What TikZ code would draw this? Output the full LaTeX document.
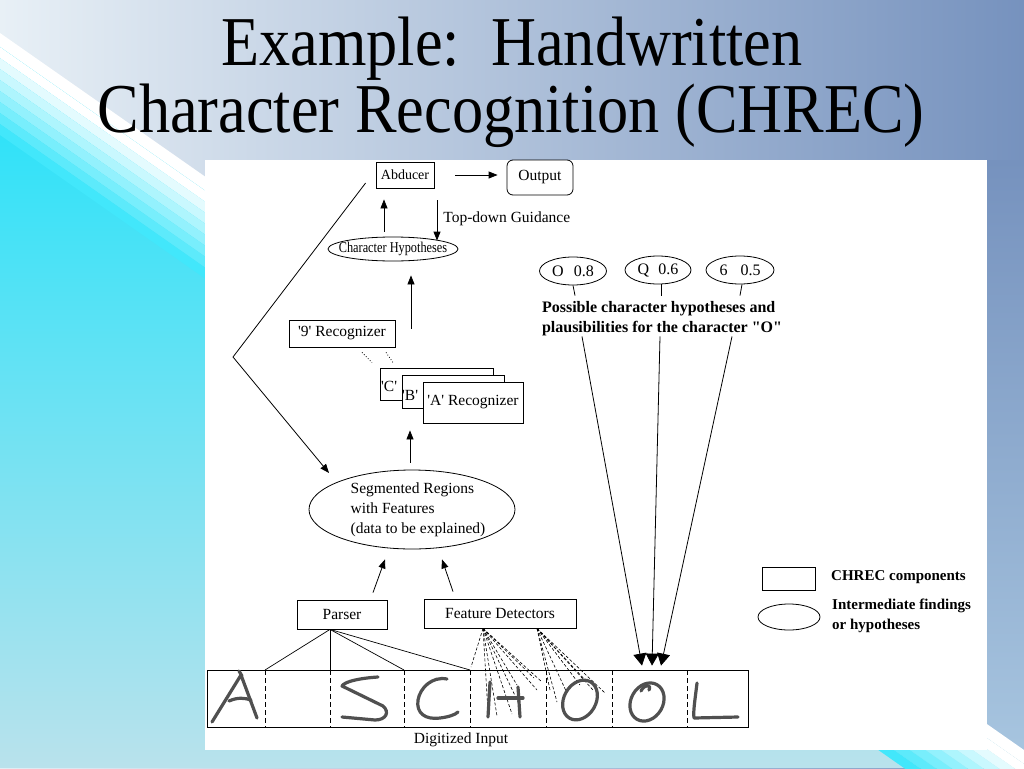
\documentclass[tikz,border=0pt]{standalone}
\usepackage{fontspec}
\setmainfont{Liberation Serif}
\usetikzlibrary{shapes.geometric, arrows.meta}
\definecolor{bgcyan}{RGB}{30,226,250}
\definecolor{bgcyanlight}{RGB}{185,226,236}
\definecolor{bgpale}{RGB}{232,240,246}
\definecolor{bgmid}{RGB}{196,214,231}
\definecolor{bgslate}{RGB}{118,146,190}
\definecolor{bgsky}{RGB}{168,198,224}
\definecolor{ink}{RGB}{80,80,80}
\newcommand{\quoted}[1]{\textquotesingle#1\textquotesingle}
\tikzstyle{comp} = [rectangle, draw=black, fill=white, line width=0.8pt, inner sep=0pt, font=\fontsize{15.5}{20}\selectfont]
\tikzstyle{finding} = [ellipse, draw=black, fill=white, line width=0.8pt, inner sep=0pt]
\tikzstyle{arrow} = [line width=0.8pt, -{Triangle[length=9pt,width=7pt]}]
\tikzstyle{bigarrow} = [line width=0.8pt, -{Triangle[length=12pt,width=13pt]}]
\tikzstyle{feature} = [line width=0.6pt, dash pattern=on 3pt off 2pt]
\tikzstyle{cut} = [line width=0.8pt, dash pattern=on 5pt off 3pt]
\tikzstyle{pen} = [ink, line width=3.2pt, line cap=round, line join=round]
\tikzstyle{txt} = [inner sep=0pt, font=\fontsize{15.5}{20}\selectfont]
\tikzstyle{note} = [inner sep=0pt, align=left, font=\bfseries\fontsize{15}{20}\selectfont]
\tikzstyle{heading} = [inner sep=0pt, anchor=base, xscale=0.89, font=\fontsize{70}{70}\selectfont]
\begin{document}
\begin{tikzpicture}[x=1pt,y=-1pt]
\useasboundingbox (0,0) rectangle (1024,768);
\shade[left color=bgpale, middle color=bgmid, right color=bgslate] (0,0) rectangle (1024,768);
\shade[top color=bgslate, bottom color=bgsky] (987,160) rectangle (1024,768);
\fill[white] (0,33) -- (1024,750) -- (1024,764) -- (0,47) -- cycle;
\shade[top color=bgcyan, middle color=bgcyan, bottom color=bgcyanlight] (0,47) -- (1024,764) -- (1024,768) -- (0,768) -- cycle;
\foreach \i in {0,...,7}
  \fill[bgcyan!\the\numexpr 12*\i\relax!white] (0,47+11*\i) -- (1024,764+11*\i) -- (1024,775+11*\i) -- (0,58+11*\i) -- cycle;
\node[heading] (title1) at (512,65) {Example:\ \ Handwritten};
\node[heading] (title2) at (511,132) {Character Recognition (CHREC)};
\fill[white] (205,160) rectangle (987,750);

\node[comp, minimum width=58pt, minimum height=26pt, font=\fontsize{14}{16}\selectfont] (abducer) at (405,175) {Abducer};
\node[comp, rounded corners=6pt, minimum width=66pt, minimum height=35pt] (output) at (540,177.5) {Output};
\node[finding, minimum width=130pt, minimum height=24pt, label={[font=\fontsize{15}{16}\selectfont, xscale=0.82]center:Character Hypotheses}] (charhyp) at (393,249) {};
\node[comp, minimum width=106pt, minimum height=27pt] (nine) at (342,333.5) {\quoted{9} Recognizer};
\node[comp, minimum width=113pt, minimum height=32pt] (recC) at (436.5,384) {};
\node[txt, anchor=west] (labC) at (381,386) {\quoted{C}};
\node[comp, minimum width=102pt, minimum height=33pt] (recB) at (453,391.5) {};
\node[txt, anchor=west] (labB) at (402,395) {\quoted{B}};
\node[comp, minimum width=100pt, minimum height=41pt] (recA) at (473,402.5) {\quoted{A} Recognizer};
\node[finding, minimum width=206pt, minimum height=79pt, label={[txt, align=left, xshift=6pt]center:Segmented Regions\\with Features\\(data to be explained)}] (segm) at (412,509.5) {};
\node[comp, minimum width=90pt, minimum height=29pt] (parser) at (342,614.5) {Parser};
\node[comp, minimum width=152pt, minimum height=29pt] (featdet) at (500,613.5) {Feature Detectors};
\node[rectangle, draw=black, line width=0.8pt, minimum width=541pt, minimum height=57pt, inner sep=0pt] (input) at (477.5,698.5) {};
\node[txt] (inlabel) at (461,740) {Digitized Input};

\node[finding, minimum width=67pt, minimum height=28pt, font=\fontsize{16}{18}\selectfont] (hypO) at (573,271) {O\hspace{10pt}0.8};
\node[finding, minimum width=66pt, minimum height=28pt, font=\fontsize{16}{18}\selectfont] (hypQ) at (658,270) {Q\hspace{9pt}0.6};
\node[finding, minimum width=68pt, minimum height=28pt, font=\fontsize{16}{18}\selectfont] (hyp6) at (740,270) {6\hspace{13pt}0.5};
\node[note, font=\bfseries\fontsize{16}{20}\selectfont] (poss) at (662,319) {Possible character hypotheses and\\plausibilities for the character \textquotedbl O\textquotedbl};

\node[comp, minimum width=53pt, minimum height=23pt] (legrect) at (788.5,578.5) {};
\node[finding, minimum width=62pt, minimum height=26pt] (legell) at (789,617) {};
\node[note, anchor=west] (legtxt1) at (831,577) {CHREC components};
\node[note, anchor=west] (legtxt2) at (832,616) {Intermediate findings\\or hypotheses};

\draw[arrow, shorten <=21pt, shorten >=9pt] (abducer.east) -- (abducer.east -| output.west);
\draw[arrow, shorten <=5pt, shorten >=11pt] ([xshift=-9pt]charhyp.north) -- ([xshift=-21pt]abducer.south);
\draw[arrow, shorten <=12pt, shorten >=-4pt] ([xshift=32pt]abducer.south) -- node[txt, right=6pt, pos=0.62] (guide) {Top-down Guidance} ([xshift=44pt]charhyp.north);
\draw[arrow, shorten <=39pt, shorten >=14pt] ([xshift=-25.5pt]recC.north) -- ([xshift=18pt]charhyp.south);
\draw[dotted, line width=0.8pt] ([xshift=20pt,yshift=-5pt]nine.south) -- ([xshift=-64.5pt,yshift=5pt]recC.north);
\draw[dotted, line width=0.8pt] ([xshift=44pt,yshift=-5pt]nine.south) -- ([xshift=-43.5pt,yshift=5pt]recC.north);
\draw[arrow, shorten <=7pt, shorten >=7pt] ([xshift=-2pt]segm.north) -- ([xshift=-63pt]recA.south);
\draw[arrow] ([xshift=31pt,yshift=7pt]parser.north) -- ([xshift=-27pt,yshift=-10pt]segm.south);
\draw[arrow] ([xshift=-47pt,yshift=7pt]featdet.north) -- ([xshift=30pt,yshift=-10pt]segm.south);
\coordinate (fbend) at (233,357);
\draw[arrow] ([xshift=-10pt,yshift=-8pt]abducer.west) -- (fbend) -- ([xshift=-83pt,yshift=36.5pt]segm.center);

\draw[line width=0.8pt] (hypO.south) -- ([xshift=-87pt,yshift=6pt]poss.north);
\draw[line width=0.8pt] ([xshift=3pt]hypQ.south) -- ([xshift=-1pt,yshift=6pt]poss.north);
\draw[line width=0.8pt] ([xshift=2pt]hyp6.south) -- ([xshift=78pt,yshift=6pt]poss.north);
\draw[bigarrow] ([xshift=-80pt]poss.south) -- ([xshift=164.5pt,yshift=4pt]input.north);
\draw[bigarrow] ([xshift=-2pt]poss.south) -- ([xshift=174.5pt,yshift=4pt]input.north);
\draw[bigarrow] ([xshift=70pt]poss.south) -- ([xshift=183.5pt,yshift=4pt]input.north);

\foreach \x in {265,330,404,470,546,612,687}
  \draw[cut] (\x,670) -- (\x,727);
\coordinate (pfork) at ([xshift=-12pt]parser.south);
\foreach \x in {265,330,404,470}
  \draw[line width=0.7pt] (pfork) -- (\x,670);
\coordinate (fdleft) at ([xshift=-17pt]featdet.south);
\coordinate (fdright) at ([xshift=37pt]featdet.south);
\foreach \x/\y in {471/667,488/712,497/716,512/714,520/706,517/685,534/678,542/682,537/690}
  \draw[feature] (fdleft) -- (\x,\y);
\foreach \x/\y in {550/690,557/702,567/693,580/685,587/682,605/693,593/690}
  \draw[feature] (fdright) -- (\x,\y);

\draw[pen] (212,722) -- (241,675) -- (257,718);
\draw[pen] (229,701) .. controls (238,697) and (245,698) .. (251,700);
\draw[pen] (239,671) -- (242,676);
\draw[pen] (378,677) .. controls (362,678) and (345,681) .. (342,686) -- (383,706) .. controls (390,712) and (386,720) .. (375,720) -- (342,717);
\draw[pen] (447,679) .. controls (432,676) and (420,688) .. (418,700) .. controls (416,713) and (425,720) .. (440,718) .. controls (448,717) and (455,715) .. (458,712);
\draw[pen] (490,682) -- (488,717);
\draw[pen] (518,687) -- (520,717);
\draw[pen] (498,698) -- (523,698);
\draw[pen, rotate around={60:(580,700)}] (580,700) ellipse [x radius=21, y radius=16];
\draw[pen, rotate around={60:(647,702)}] (647,702) ellipse [x radius=20, y radius=16];
\draw[pen] (641,691) .. controls (644,684) and (652,684) .. (649,690);
\draw[pen] (697,683) .. controls (695,700) and (693,712) .. (694,718) -- (738,717);
\end{tikzpicture}
\end{document}
